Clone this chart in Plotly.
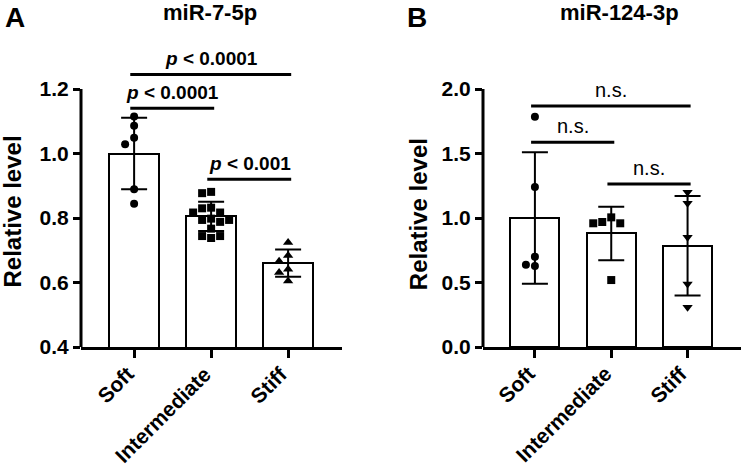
import plotly.graph_objects as go

# ---------------- data ----------------
categories = ["Soft", "Intermediate", "Stiff"]

# Panel A : miR-7-5p (individual values)
a_soft = [1.115, 1.086, 1.049, 1.029, 0.889, 0.844]
a_inter = [0.881, 0.877, 0.832, 0.830, 0.817, 0.817, 0.798, 0.794, 0.794,
           0.788, 0.767, 0.744, 0.738, 0.744]
a_stiff = [0.724, 0.684, 0.666, 0.641, 0.631, 0.605]
a_mean = [1.00, 0.805, 0.66]
a_sd = [0.111, 0.045, 0.042]
a_ticks = [0.4, 0.6, 0.8, 1.0, 1.2]

# Panel B : miR-124-3p
b_soft = [1.785, 1.240, 0.700, 0.638, 0.628]
b_inter = [1.005, 0.969, 0.959, 0.959, 0.519]
b_stiff = [1.199, 1.114, 0.850, 0.488, 0.308]
b_mean = [1.00, 0.88, 0.785]
b_sd = [0.51, 0.207, 0.385]
b_ticks = [0.0, 0.5, 1.0, 1.5, 2.0]

# significance brackets: (from category, to category, height, label)
a_sig = [(0, 2, 1.245, "<i>p</i> < 0.0001"),
         (0, 1, 1.14, "<i>p</i> < 0.0001"),
         (1, 2, 0.92, "<i>p</i> < 0.001")]
b_sig = [(0, 2, 1.868, "n.s."),
         (0, 1, 1.587, "n.s."),
         (1, 2, 1.264, "n.s.")]

# ---------------- layout geometry ----------------
FIG_W, FIG_H = 742, 471
ML, MR, MT, MB = 81, 1, 45, 124
PW = FIG_W - ML - MR
PH = FIG_H - MT - MB
a_dom = [0.0, (342 - 81) / PW]
b_dom = [(483 - 81) / PW, 1.0]
a_xr = [-0.69, 2.70]
b_xr = [-0.68, 2.70]
a_yr = [0.4, 0.4 + PH / 322.5]
b_yr = [0.0, PH / 129.0]

FONT = "Liberation Sans, Arial, sans-serif"


def px2paper_x(px):
    return (px - ML) / PW


def px2paper_y(py):
    return (MT + PH - py) / PH


def swarm(values, px_y, px_x, d=9.0, step=9.0):
    order = sorted(range(len(values)), key=lambda i: -values[i])
    placed = []
    offs = [0.0] * len(values)
    cands = [0.0]
    for m in range(1, 12):
        cands += [-m * step, m * step]
    for i in order:
        y = values[i] * px_y
        chosen = cands[-1]
        for c in cands:
            if all((c - px) ** 2 + (y - py) ** 2 >= d * d for px, py in placed):
                chosen = c
                break
        placed.append((chosen, y))
        offs[i] = chosen / px_x
    return offs


fig = go.Figure()

panels = [
    dict(xa="x", ya="y", dom=a_dom, xr=a_xr, yr=a_yr, mean=a_mean, sd=a_sd,
         groups=[a_soft, a_inter, a_stiff], ticks=a_ticks, sig=a_sig,
         symbols=["circle", "square", "triangle-up"], sigbold=True),
    dict(xa="x2", ya="y2", dom=b_dom, xr=b_xr, yr=b_yr, mean=b_mean, sd=b_sd,
         groups=[b_soft, b_inter, b_stiff], ticks=b_ticks, sig=b_sig,
         symbols=["circle", "square", "triangle-down"], sigbold=False),
]

shapes = []
annotations = []
for p in panels:
    px_x = PW * (p["dom"][1] - p["dom"][0]) / (p["xr"][1] - p["xr"][0])
    px_y = PH / (p["yr"][1] - p["yr"][0])
    fig.add_trace(go.Bar(
        x=[0, 1, 2], y=p["mean"], width=0.64,
        marker=dict(color="white", line=dict(color="black", width=2)),
        error_y=dict(type="data", array=p["sd"], visible=True,
                     color="black", thickness=2, width=13),
        xaxis=p["xa"], yaxis=p["ya"], showlegend=False, hoverinfo="skip"))
    for k, vals in enumerate(p["groups"]):
        offs = swarm(vals, px_y, px_x)
        sym = p["symbols"][k]
        size = 9 if "triangle" in sym else 8
        fig.add_trace(go.Scatter(
            x=[k + o for o in offs], y=vals, mode="markers",
            marker=dict(symbol=sym, size=size, color="black"),
            xaxis=p["xa"], yaxis=p["ya"], showlegend=False, cliponaxis=False))
    # category labels (rotated)
    for k, cat in enumerate(categories):
        annotations.append(dict(
            xref=p["xa"], yref="paper", x=k, y=px2paper_y(359), xshift=7,
            text="<b>" + cat + "</b>", textangle=-45, showarrow=False,
            xanchor="right", yanchor="top",
            font=dict(family=FONT, size=21, color="black")))
    # y axis line only over tick range
    shapes.append(dict(type="line", xref=p["xa"] + " domain", x0=0, x1=0,
                       yref=p["ya"], y0=p["ticks"][0], y1=p["ticks"][-1],
                       line=dict(color="black", width=3)))
    for i, j, h, lab in p["sig"]:
        shapes.append(dict(type="line", xref=p["xa"], yref=p["ya"],
                           x0=i - 0.05, x1=j + 0.04, y0=h, y1=h,
                           line=dict(color="black", width=3)))
        txt = "<b>" + lab + "</b>" if p["sigbold"] else lab
        annotations.append(dict(
            xref=p["xa"], yref=p["ya"], x=(i + j) / 2, y=h, text=txt,
            showarrow=False, yanchor="bottom", yshift=3,
            font=dict(family=FONT, size=19 if p["sigbold"] else 20,
                      color="black")))

for txt, cx, size, top in [("miR-7-5p", 210, 22, -2), ("miR-124-3p", 619, 22, -2),
                           ("A", 15, 28, 0), ("B", 417, 28, 0)]:
    annotations.append(dict(xref="paper", yref="paper", x=px2paper_x(cx),
                            y=px2paper_y(top), text="<b>" + txt + "</b>",
                            showarrow=False, xanchor="center", yanchor="top",
                            font=dict(family=FONT, size=size, color="black")))

annotations.append(dict(xref="paper", yref="y", x=px2paper_x(13), y=0.82,
                        text="<b>Relative level</b>", textangle=-90,
                        showarrow=False, xanchor="center", yanchor="middle",
                        font=dict(family=FONT, size=24, color="black")))
annotations.append(dict(xref="paper", yref="y2", x=px2paper_x(418), y=1.03,
                        text="<b>Relative level</b>", textangle=-90,
                        showarrow=False, xanchor="center", yanchor="middle",
                        font=dict(family=FONT, size=24, color="black")))

xaxis_common = dict(tickvals=[0, 1, 2], showticklabels=False,
                    showline=True, linecolor="black", linewidth=3,
                    ticks="outside", ticklen=8, tickwidth=3, tickcolor="black",
                    showgrid=False, zeroline=False)
yaxis_common = dict(showline=False, ticks="outside", ticklen=7, tickwidth=3,
                    tickcolor="black", showgrid=False, zeroline=False,
                    tickfont=dict(family=FONT, size=21, color="black", weight="bold"))

fig.update_layout(
    width=FIG_W, height=FIG_H,
    margin=dict(l=ML, r=MR, t=MT, b=MB),
    plot_bgcolor="white", paper_bgcolor="white",
    xaxis=dict(domain=a_dom, range=a_xr, anchor="y", **xaxis_common),
    yaxis=dict(range=a_yr, anchor="x", tickvals=a_ticks,
               ticktext=["%.1f" % v for v in a_ticks], **yaxis_common),
    xaxis2=dict(domain=b_dom, range=b_xr, anchor="y2", **xaxis_common),
    yaxis2=dict(range=b_yr, anchor="x2", tickvals=b_ticks,
                ticktext=["%.1f" % v for v in b_ticks], **yaxis_common),
    shapes=shapes, annotations=annotations, bargap=0,
)

fig.write_html("out.html", config={"displayModeBar": False},
               post_script="document.body.style.margin='0';")
